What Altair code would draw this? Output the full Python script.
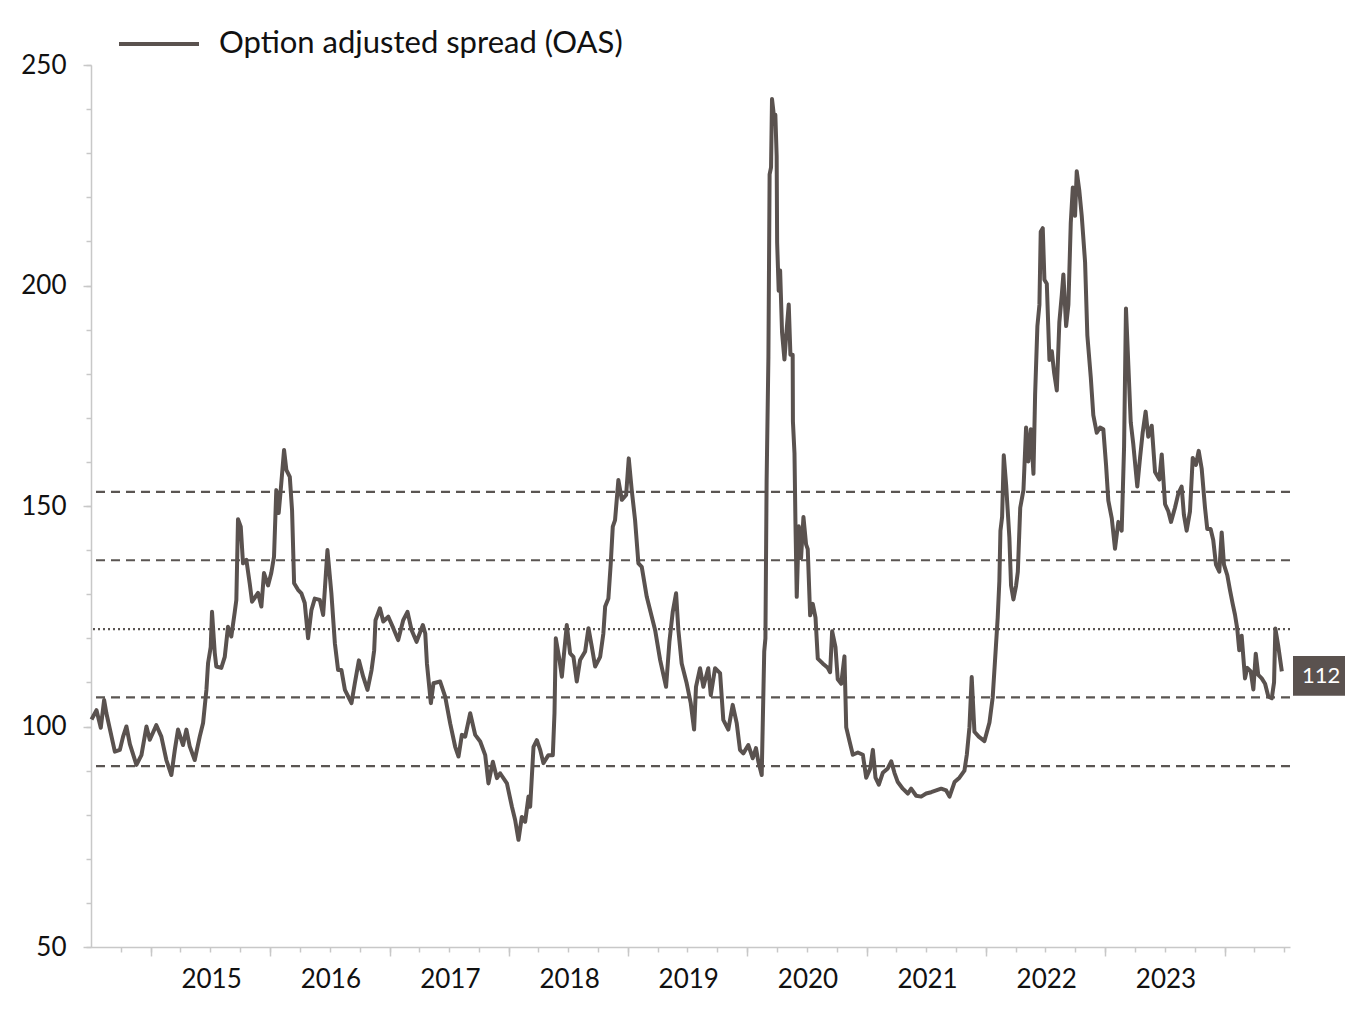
import altair as alt
import pandas as pd
import numpy as np

# ---- data (decimal year, OAS in bp) ----
t = [
2014.500, 2014.542, 2014.578, 2014.606, 2014.625, 2014.696, 2014.738, 2014.765, 2014.793, 2014.822,
2014.877, 2014.919, 2014.961, 2014.989, 2015.044, 2015.086, 2015.128, 2015.170, 2015.199, 2015.226,
2015.268, 2015.296, 2015.324, 2015.366, 2015.408, 2015.436, 2015.464, 2015.478, 2015.500, 2015.511,
2015.534, 2015.547, 2015.589, 2015.618, 2015.645, 2015.673, 2015.702, 2015.715, 2015.729, 2015.752,
2015.771, 2015.799, 2015.827, 2015.847, 2015.897, 2015.925, 2015.947, 2015.981, 2016.008, 2016.031,
2016.050, 2016.070, 2016.087, 2016.115, 2016.134, 2016.163, 2016.182, 2016.199, 2016.232, 2016.260,
2016.288, 2016.316, 2016.344, 2016.372, 2016.414, 2016.442, 2016.456, 2016.478, 2016.511, 2016.540,
2016.567, 2016.595, 2016.624, 2016.679, 2016.707, 2016.741, 2016.777, 2016.813, 2016.847, 2016.869,
2016.880, 2016.917, 2016.945, 2016.987, 2017.029, 2017.070, 2017.112, 2017.148, 2017.182, 2017.224,
2017.277, 2017.297, 2017.311, 2017.344, 2017.366, 2017.422, 2017.464, 2017.506, 2017.548, 2017.576,
2017.604, 2017.632, 2017.674, 2017.716, 2017.758, 2017.800, 2017.827, 2017.864, 2017.898, 2017.925,
2017.982, 2018.024, 2018.051, 2018.079, 2018.107, 2018.135, 2018.163, 2018.177, 2018.205, 2018.233,
2018.261, 2018.288, 2018.330, 2018.367, 2018.381, 2018.392, 2018.423, 2018.443, 2018.456, 2018.484,
2018.512, 2018.540, 2018.568, 2018.596, 2018.638, 2018.666, 2018.694, 2018.722, 2018.764, 2018.791,
2018.806, 2018.833, 2018.853, 2018.870, 2018.889, 2018.917, 2018.946, 2018.982, 2019.004, 2019.029,
2019.057, 2019.085, 2019.113, 2019.155, 2019.197, 2019.225, 2019.267, 2019.317, 2019.345, 2019.373,
2019.401, 2019.420, 2019.448, 2019.490, 2019.524, 2019.552, 2019.568, 2019.602, 2019.630, 2019.671,
2019.692, 2019.728, 2019.770, 2019.797, 2019.839, 2019.876, 2019.910, 2019.937, 2019.965, 2020.007,
2020.044, 2020.071, 2020.091, 2020.119, 2020.140, 2020.150, 2020.160, 2020.175, 2020.185, 2020.197,
2020.205, 2020.216, 2020.225, 2020.233, 2020.244, 2020.248, 2020.261, 2020.273, 2020.289, 2020.309,
2020.323, 2020.345, 2020.359, 2020.378, 2020.380, 2020.393, 2020.401, 2020.412, 2020.429, 2020.448,
2020.468, 2020.490, 2020.504, 2020.524, 2020.546, 2020.569, 2020.588, 2020.629, 2020.671, 2020.691,
2020.708, 2020.736, 2020.755, 2020.784, 2020.811, 2020.826, 2020.853, 2020.881, 2020.923, 2020.965,
2020.993, 2021.027, 2021.049, 2021.071, 2021.099, 2021.132, 2021.174, 2021.203, 2021.230, 2021.258,
2021.300, 2021.342, 2021.370, 2021.412, 2021.454, 2021.496, 2021.538, 2021.580, 2021.622, 2021.664,
2021.692, 2021.734, 2021.775, 2021.817, 2021.837, 2021.859, 2021.878, 2021.901, 2021.937, 2021.985,
2022.027, 2022.054, 2022.077, 2022.096, 2022.110, 2022.119, 2022.133, 2022.147, 2022.167, 2022.194,
2022.208, 2022.228, 2022.250, 2022.265, 2022.285, 2022.312, 2022.334, 2022.353, 2022.374, 2022.396,
2022.410, 2022.429, 2022.446, 2022.457, 2022.474, 2022.488, 2022.508, 2022.530, 2022.550, 2022.569,
2022.592, 2022.613, 2022.634, 2022.647, 2022.670, 2022.689, 2022.709, 2022.726, 2022.745, 2022.759,
2022.781, 2022.801, 2022.829, 2022.848, 2022.877, 2022.898, 2022.927, 2022.955, 2022.982, 2023.005,
2023.024, 2023.053, 2023.080, 2023.108, 2023.136, 2023.156, 2023.172, 2023.192, 2023.212, 2023.233,
2023.267, 2023.290, 2023.312, 2023.337, 2023.359, 2023.388, 2023.416, 2023.452, 2023.472, 2023.500,
2023.527, 2023.550, 2023.583, 2023.611, 2023.639, 2023.658, 2023.681, 2023.709, 2023.732, 2023.759,
2023.782, 2023.807, 2023.835, 2023.854, 2023.882, 2023.904, 2023.927, 2023.955, 2023.975, 2023.994,
2024.022, 2024.044, 2024.067, 2024.086, 2024.105, 2024.122, 2024.142, 2024.170, 2024.189, 2024.218,
2024.240, 2024.260, 2024.281, 2024.310, 2024.338, 2024.365, 2024.394, 2024.413, 2024.424, 2024.449,
2024.478]

oas = [
101.6, 103.7, 99.7, 106, 103, 94.3, 94.7, 97.7, 100, 96,
91.3, 93.5, 100, 97, 100.3, 97.7, 92.4, 89, 94.7, 99.3,
95.8, 99.3, 95.5, 92.4, 97.7, 100.8, 108.3, 114.4, 118, 126,
116.7, 113.6, 113.3, 115.8, 122.6, 120.4, 126, 128.7, 147, 145.3,
137, 137.8, 132.5, 128.3, 130.3, 127.2, 134.8, 132, 134.8, 138.5,
153.6, 148.4, 153.6, 162.7, 158.2, 156.6, 149, 132.5, 131, 130.2,
128, 120, 126.4, 129, 128.7, 125.3, 131, 140, 130.2, 118.9,
112.8, 112.8, 108.3, 105.3, 109.8, 115, 111.3, 108.3, 112.8, 117.3,
124.1, 126.8, 123.8, 124.9, 122.3, 119.6, 124.1, 126, 121.9, 119.2,
123, 121.1, 114.3, 105.3, 109.8, 110.2, 106.8, 100.7, 95.4, 93.2,
98.1, 97.7, 103, 98.1, 96.6, 93.5, 87.1, 92, 88.3, 89.4,
87.1, 81.8, 78.8, 74.3, 79.5, 78.4, 84.1, 81.8, 95.4, 96.9,
94.7, 91.7, 93.5, 93.5, 103, 120, 115.1, 111.3, 115.1, 123,
116.6, 115.8, 110.2, 115.1, 117, 122.3, 118.1, 113.6, 115.8, 121.1,
127.2, 129, 137, 145.3, 146.8, 155.9, 151.4, 152.5, 160.8, 153.6,
146.8, 137, 136.2, 129.4, 124.9, 121.9, 115.1, 109, 119.2, 126,
130.2, 121.9, 114.3, 109.8, 105.3, 99.3, 109, 113.2, 109, 113.2,
107.1, 113.2, 112.1, 101.5, 99.3, 104.9, 100.7, 94.7, 93.9, 95.8,
92.8, 95.1, 92, 89, 117, 120, 155.8, 183.8, 225.2, 226.8,
242.3, 239.7, 236.6, 238.7, 229.3, 209.7, 198.8, 203.4, 189.4, 183.2,
188.4, 195.7, 184.3, 184.3, 169.2, 162, 146.5, 129.4, 145.4, 138.2,
147.5, 141.3, 140.2, 125.2, 127.8, 124.7, 115.4, 114.3, 113.3, 112.3,
121.6, 118, 110.7, 109.7, 115.9, 99.8, 96.7, 93.6, 94.1, 93.6,
88.4, 90.5, 94.7, 88.4, 86.8, 89.5, 90.5, 92.1, 89.5, 87.4,
85.9, 84.8, 85.9, 84.3, 84.1, 84.8, 85.1, 85.5, 85.9, 85.5,
84.1, 87.4, 88.4, 90, 93.6, 99.8, 111.2, 98.8, 97.7, 96.7,
100.9, 106.6, 116.4, 124.7, 133, 144.4, 147.5, 161.5, 154.7, 142.8,
132, 128.8, 131.9, 135.1, 149.6, 153.6, 167.8, 160.1, 167.4, 157.3,
175.4, 190.8, 195.6, 212.2, 213, 201.3, 200.4, 183.1, 185.1, 180.3,
176.2, 191.6, 198, 202.5, 190.8, 195.6, 214.2, 222.2, 215.8, 225.9,
221.4, 215.8, 205.3, 188.7, 179.1, 170.6, 166.6, 167.8, 167.4, 159.3,
151.2, 147.2, 140.3, 146.4, 144.4, 163.3, 194.8, 181.9, 169, 164.1,
154.4, 160.9, 166.6, 171.4, 165.7, 168.2, 157.7, 156, 161.7, 150.4,
148.8, 146.4, 149.6, 152.8, 154.4, 148, 144.4, 148.8, 160.9, 159.3,
162.5, 158.5, 149.6, 144.8, 144.8, 142.3, 136.7, 135.1, 144, 136.7,
134.3, 131, 127.8, 125.4, 122.2, 117.3, 120.6, 110.9, 113.3, 112.5,
108.4, 116.5, 111.7, 110.9, 109.7, 106.8, 106.4, 110, 122.2, 118.1,
112.5]

series_name = "Option adjusted spread (OAS)"

# mean +/- 1 and 2 standard deviations
band_levels = [91.0, 106.6, 137.7, 153.2]
mean_level = [122.1]

last_value = [111.5]
last_label = ["112"]

year_labels = list(range(2015, 2025))

# ---- build tables ----
def dec_to_iso(y):
    yi = int(np.floor(y))
    start = pd.Timestamp(year=yi, month=1, day=1)
    end = pd.Timestamp(year=yi + 1, month=1, day=1)
    ts = start + (end - start) * (y - yi)
    return ts.strftime("%Y-%m-%dT%H:%M:%SZ")

df = pd.DataFrame({"date": [dec_to_iso(v) for v in t], "oas": oas, "series": series_name})
df_bands = pd.DataFrame({"level": band_levels})
df_mean = pd.DataFrame({"level": mean_level})
df_last = pd.DataFrame({"v": last_value, "lab": last_label})

W, H = 1199, 882
LINE = "#5A524F"
RULE = "#5A5552"
AXIS = "#C8C8C8"
FONT = "Lato"
FS = 26

def dt(y, m, d):
    return alt.DateTime(year=y, month=m, date=d, utc=True)

year_ticks = [dt(y, 1, 1) for y in year_labels]
quarter_ticks = []
for y in range(2014, 2025):
    for m in (1, 4, 7, 10):
        if (y, m) >= (2014, 10) and (y, m) <= (2024, 7):
            quarter_ticks.append(dt(y, m, 1))

xscale = alt.Scale(type="utc", domain=[dt(2014, 7, 1), dt(2024, 7, 19)])
yscale = alt.Scale(domain=[50, 250], nice=False, zero=False)

line = alt.Chart(df).mark_line(strokeWidth=4, strokeJoin="round").encode(
    x=alt.X("date:T", scale=xscale,
            axis=alt.Axis(orient="bottom", values=year_ticks, tickSize=9, tickWidth=1.5,
                          tickColor=AXIS, domainColor=AXIS, domainWidth=1.5,
                          labelOffset=60, labelFlush=False, labelOverlap=False,
                          labelExpr="utcFormat(datum.value, '%Y') == '2024' ? '' : utcFormat(datum.value, '%Y')",
                          labelFont=FONT, labelFontSize=FS, labelColor="#111111",
                          labelPadding=10, grid=False, title=None)),
    y=alt.Y("oas:Q", scale=yscale,
            axis=alt.Axis(orient="left", values=[50, 100, 150, 200, 250], tickSize=8, tickWidth=1.5,
                          tickColor=AXIS, domainColor=AXIS, domainWidth=1.5,
                          labelFont=FONT, labelFontSize=FS, labelColor="#111111",
                          labelPadding=17, grid=False, title=None)),
    color=alt.Color("series:N", scale=alt.Scale(range=[LINE]),
                    legend=alt.Legend(orient="none", legendX=26, legendY=-63, title=None,
                                      symbolType="stroke", symbolSize=6400, symbolStrokeWidth=4,
                                      labelFont=FONT, labelFontSize=31, labelColor="#111111",
                                      labelOffset=18, labelLimit=0)),
)

minor = alt.Chart(df).mark_line(opacity=0).encode(
    x=alt.X("date:T", axis=alt.Axis(orient="bottom", values=quarter_ticks, tickSize=5, tickWidth=1.5,
                                     tickColor=AXIS, labels=False, domain=False, grid=False, title=None)),
    y=alt.Y("oas:Q", axis=alt.Axis(orient="left", values=list(range(50, 251, 10)), tickSize=5,
                                    tickWidth=1.5, tickColor=AXIS, labels=False, domain=False,
                                    grid=False, title=None)),
)

bands = alt.Chart(df_bands).mark_rule(strokeDash=[9, 6], strokeWidth=2.2, color=RULE).encode(
    y=alt.Y("level:Q", axis=None)
)
mean = alt.Chart(df_mean).mark_rule(strokeDash=[2, 3], strokeWidth=2.2, color=RULE).encode(
    y=alt.Y("level:Q", axis=None)
)

box = alt.Chart(df_last).transform_calculate(
    top="datum.v + 4.5", bot="datum.v - 4.5"
).mark_rect(color=LINE).encode(
    x=alt.value(W + 3), x2=alt.value(W + 60),
    y=alt.Y("top:Q", axis=None), y2="bot:Q",
)
box_text = alt.Chart(df_last).mark_text(align="left", baseline="middle", color="white",
                                         font=FONT, fontSize=22).encode(
    x=alt.value(W + 12), y=alt.Y("v:Q", axis=None), text="lab:N"
)

chart = alt.layer(bands, mean, minor, line, box, box_text).resolve_axis(
    x="independent", y="independent"
).properties(
    width=W, height=H,
    padding={"left": 83, "top": 57, "right": 55, "bottom": 58},
    autosize=alt.AutoSizeParams(type="none"),
    background="white",
).configure_view(stroke=None)

chart.save("out.html", embed_options={"renderer": "svg", "actions": False})
